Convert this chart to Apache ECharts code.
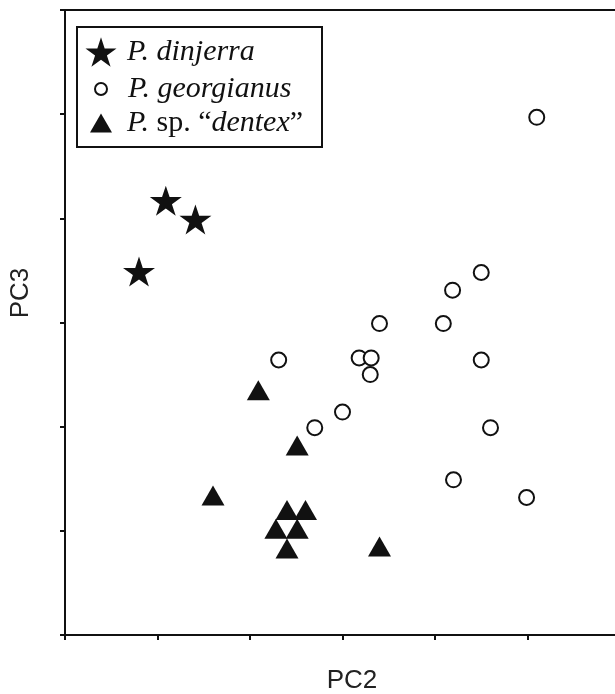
<!DOCTYPE html>
<html>
<head>
<meta charset="utf-8">
<style>html,body{margin:0;padding:0;background:#fff;}#c{width:615px;height:694px;}</style>
<script src="https://cdn.jsdelivr.net/npm/echarts@6/dist/echarts.min.js"></script>
</head>
<body>
<div id="c"></div>
<script>
// PCA scores (axis units = tick steps)
var dinjerra = [[1.09,4.17],[1.41,3.99],[0.80,3.49]];
var georgianus = [[2.31,2.64],[3.18,2.66],[3.31,2.66],[3.30,2.50],[3.40,2.99],[3.00,2.14],[2.70,1.99],
  [5.10,4.97],[4.50,3.48],[4.19,3.31],[4.09,2.99],[4.50,2.64],[4.60,1.99],[4.20,1.49],[4.99,1.32]];
var dentex = [[2.09,2.35],[2.51,1.82],[1.60,1.34],[2.40,1.20],[2.60,1.20],[2.28,1.02],[2.51,1.02],[2.40,0.83],[3.40,0.85]];
var seriesNames = ['P. dinjerra','P. georgianus','P. sp. \u201cdentex\u201d'];
var axisNames = ['PC2','PC3'];

var STAR = 'path://M100,0 L122.45,69.1 L195.11,69.1 L136.33,111.8 L158.78,180.9 L100,138.2 L41.22,180.9 L63.67,111.8 L4.89,69.1 L77.55,69.1 Z';
var serif = '"Liberation Serif","DejaVu Serif",serif';
var sans = '"Liberation Sans",Arial,sans-serif';
var fs = 30;

function legendOf(name, icon, w, h, left, top, pad, fmt, style){
  return {
    data:[{name:name, icon:icon, itemStyle:style}],
    left:left, top:top, padding:0, itemWidth:w, itemHeight:h, selectedMode:false,
    formatter: fmt,
    textStyle:{fontFamily:serif, fontSize:fs, color:'#111', fontStyle:'italic', padding:[0,0,0,pad],
      rich:{n:{fontFamily:serif,fontSize:fs,color:'#111',fontStyle:'normal'}, i:{fontFamily:serif,fontSize:fs,color:'#111',fontStyle:'italic'}}}
  };
}

var chart = echarts.init(document.getElementById('c'), null, {renderer:'canvas'});
chart.setOption({
  animation:false,
  backgroundColor:'#fff',
  grid:{left:65, top:10, width:555, height:625, show:true, borderColor:'#111', borderWidth:2, outerBoundsMode:'none'},
  xAxis:{type:'value', min:0, max:6, interval:1,
    name:axisNames[0], nameLocation:'middle', nameGap:33,
    nameTextStyle:{fontFamily:sans, fontSize:26, color:'#222', padding:[0,0,0,19]},
    axisLine:{show:true, lineStyle:{color:'#111', width:2}},
    axisTick:{show:true, inside:false, length:5, lineStyle:{color:'#111', width:2}},
    axisLabel:{show:false}, splitLine:{show:false}},
  yAxis:{type:'value', min:0, max:6, interval:1,
    name:axisNames[1], nameLocation:'middle', nameGap:31,
    nameTextStyle:{fontFamily:sans, fontSize:26, color:'#222', padding:[0,0,0,59]},
    axisLine:{show:true, lineStyle:{color:'#111', width:2}},
    axisTick:{show:true, inside:false, length:5, lineStyle:{color:'#111', width:2}},
    axisLabel:{show:false}, splitLine:{show:false}},
  legend:[
    legendOf(seriesNames[0], STAR, 31, 29.5, 85.5, 37, 5.5, '{i|P. dinjerra}', {color:'#111'}),
    legendOf(seriesNames[1], 'circle', 12, 12, 94, 74, 16, '{i|P. georgianus}', {color:'#fff', borderColor:'#111', borderWidth:2}),
    legendOf(seriesNames[2], 'triangle', 22, 19, 90, 108, 10, '{i|P.}{n| sp. \u201c}{i|dentex}{n|\u201d}', {color:'#111'})
  ],
  graphic:[{type:'rect', shape:{x:77, y:27, width:245, height:120}, style:{fill:null, stroke:'#111', lineWidth:2}, z:10}],
  series:[
    {name:seriesNames[0], type:'scatter', data:dinjerra, symbol:STAR, symbolSize:[32,30], itemStyle:{color:'#111', opacity:1}},
    {name:seriesNames[1], type:'scatter', data:georgianus, symbol:'circle', symbolSize:15, itemStyle:{color:'#fff', borderColor:'#111', borderWidth:2, opacity:1}},
    {name:seriesNames[2], type:'scatter', data:dentex, symbol:'triangle', symbolSize:[23,20], itemStyle:{color:'#111', opacity:1}}
  ]
});
</script>
</body>
</html>
